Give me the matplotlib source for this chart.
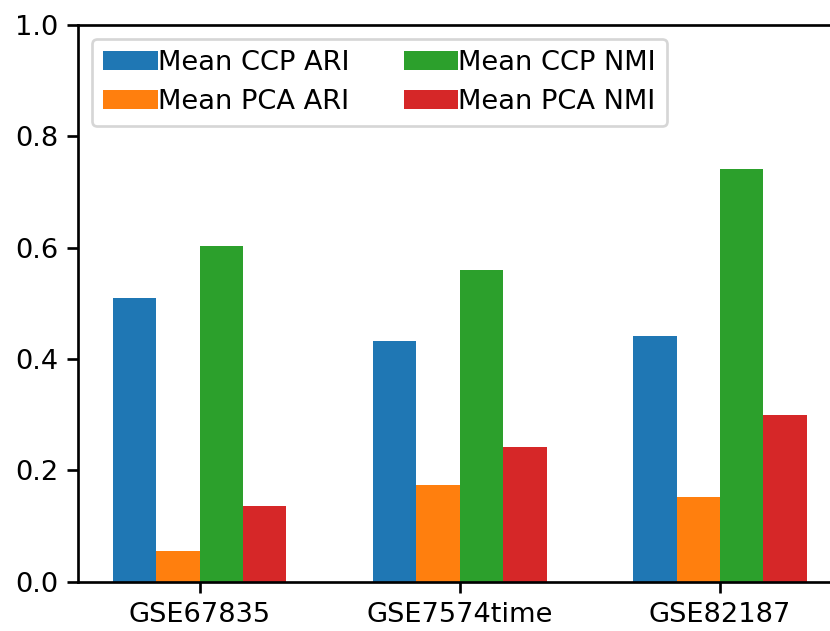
import numpy as np
import matplotlib
matplotlib.use("Agg")
import matplotlib.pyplot as plt

datasets = ["GSE67835", "GSE7574time", "GSE82187"]
ccp_ari = [0.509, 0.433, 0.442]
pca_ari = [0.055, 0.174, 0.152]
ccp_nmi = [0.603, 0.560, 0.741]
pca_nmi = [0.136, 0.242, 0.300]

DPI = 193
plt.rcParams["font.size"] = 10.2
plt.rcParams["axes.linewidth"] = 1.0
plt.rcParams["xtick.major.size"] = 4
plt.rcParams["ytick.major.size"] = 4
plt.rcParams["xtick.major.width"] = 1.0
plt.rcParams["ytick.major.width"] = 1.0

fig = plt.figure(figsize=(830 / DPI, 631 / DPI), dpi=DPI)
# right spine sits just outside the picture in the reference (cropped figure)
ax = fig.add_axes([0.0943, 0.0781, 0.9194, 0.8822])

x = np.arange(len(datasets))
w = 1 / 6
ax.bar(x - 1.5 * w, ccp_ari, w, color="#1f77b4", label="Mean CCP ARI")
ax.bar(x - 0.5 * w, pca_ari, w, color="#ff7f0e", label="Mean PCA ARI")
ax.bar(x + 0.5 * w, ccp_nmi, w, color="#2ca02c", label="Mean CCP NMI")
ax.bar(x + 1.5 * w, pca_nmi, w, color="#d62728", label="Mean PCA NMI")

ax.set_xticks(x)
ax.set_xticklabels(datasets)
ax.set_ylim(0, 1.0)
ax.set_yticks([0.0, 0.2, 0.4, 0.6, 0.8, 1.0])
ax.legend(loc="upper left", ncol=2, handletextpad=0.0, columnspacing=2.0)

fig.savefig("out.png", dpi=DPI)
